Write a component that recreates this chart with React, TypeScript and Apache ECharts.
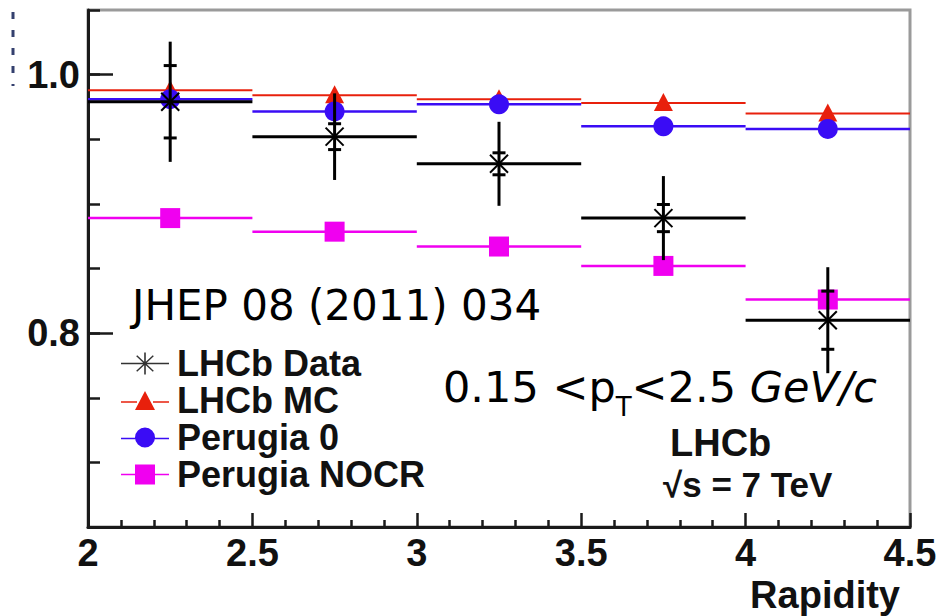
import React, { useEffect, useRef } from "react";
import * as echarts from "echarts";

// ---- data ----
const binEdges = [2, 2.5, 3, 3.5, 4, 4.5];
const dataValues = [0.979, 0.952, 0.931, 0.889, 0.81];
const dataTotalErr = [0.0465, 0.0335, 0.0325, 0.0325, 0.041];
const dataStatErr = [0.028, 0.01, 0.0085, 0.0105, 0.0225];
const mcValues = [0.988, 0.984, 0.981, 0.978, 0.97];
const perugia0Values = [0.981, 0.9715, 0.977, 0.96, 0.958];
const nocrValues = [0.889, 0.8785, 0.867, 0.852, 0.826];
const seriesNames = ["LHCb Data", "LHCb MC", "Perugia 0", "Perugia NOCR"];
const xTickLabels = ["2", "2.5", "3", "3.5", "4", "4.5"];
const yLabelValues = [0.8, 1.0];

const COLORS = {
  data: "#000000",
  mc: "#e8200c",
  p0: "#3a0cf5",
  nocr: "#f000f0",
};

const HELV = "'Liberation Sans', Arial, Helvetica, sans-serif";
const COMIC = "'DejaVu Sans', sans-serif";

const binRows = (vals: number[], extra?: number[][]) =>
  vals.map((v, i) => {
    const row = [binEdges[i], binEdges[i + 1], v];
    if (extra) extra.forEach((e) => row.push(e[i]));
    return row;
  });

type Kind = "data" | "mc" | "p0" | "nocr";

function makeRender(kind: Kind) {
  return (params: any, api: any) => {
    const x0 = api.value(0);
    const x1 = api.value(1);
    const y = api.value(2);
    const xc = (x0 + x1) / 2;
    const pL = api.coord([x0, y]);
    const pR = api.coord([x1, y]);
    const c = api.coord([xc, y]);
    const color = COLORS[kind];
    const children: any[] = [];
    const lw = kind === "data" ? 3 : kind === "mc" ? 2 : 2.5;
    children.push({
      type: "line",
      shape: { x1: pL[0], y1: pL[1], x2: pR[0], y2: pR[1] },
      style: { stroke: color, lineWidth: lw },
    });
    if (kind === "data") {
      const tot = api.value(3);
      const stat = api.value(4);
      const tTop = api.coord([xc, y + tot]);
      const tBot = api.coord([xc, y - tot]);
      const sTop = api.coord([xc, y + stat]);
      const sBot = api.coord([xc, y - stat]);
      const s = 9;
      children.push(
        { type: "line", shape: { x1: c[0] - s, y1: c[1] - s, x2: c[0] + s, y2: c[1] + s }, style: { stroke: color, lineWidth: 2 } },
        { type: "line", shape: { x1: c[0] - s, y1: c[1] + s, x2: c[0] + s, y2: c[1] - s }, style: { stroke: color, lineWidth: 2 } }
      );
      children.push({
        type: "line",
        shape: { x1: tTop[0], y1: tTop[1], x2: tBot[0], y2: tBot[1] },
        style: { stroke: color, lineWidth: 3 },
      });
      [sTop, sBot].forEach((p) =>
        children.push({
          type: "line",
          shape: { x1: p[0] - 6.5, y1: p[1], x2: p[0] + 6.5, y2: p[1] },
          style: { stroke: color, lineWidth: 3 },
        })
      );
    } else if (kind === "mc") {
      children.push({
        type: "polygon",
        shape: {
          points: [
            [c[0], c[1] - 10],
            [c[0] + 9.5, c[1] + 8],
            [c[0] - 9.5, c[1] + 8],
          ],
        },
        style: { fill: color },
      });
    } else if (kind === "p0") {
      children.push({ type: "circle", shape: { cx: c[0], cy: c[1], r: 10 }, style: { fill: color } });
    } else {
      children.push({ type: "rect", shape: { x: c[0] - 10, y: c[1] - 10, width: 20, height: 20 }, style: { fill: color } });
    }
    return { type: "group", children };
  };
}

// legend icons (48 x 22 box)
const ICON_DATA =
  "path://M0 10.2H48V11.8H0Z M23.2 0H24.8V22H23.2Z M15.2 3.8L16.2 2.8L32.8 18.2L31.8 19.2Z M31.8 2.8L32.8 3.8L16.2 19.2L15.2 18.2Z";
const ICON_MC = "path://M0 10.2H16V11.8H0Z M32 10.2H48V11.8H32Z M24 0L34 19L14 19Z";
const ICON_P0 =
  "path://M0 10.2H15V11.8H0Z M33 10.2H48V11.8H33Z M14 10A10 10 0 1 1 34 10A10 10 0 1 1 14 10Z";
const ICON_NOCR = "path://M0 10.2H15V11.8H0Z M33 10.2H48V11.8H33Z M14 1H34V21H14Z";

export default function App() {
  const ref = useRef<HTMLDivElement>(null);
  useEffect(() => {
    if (!ref.current) return;
    const chart = echarts.init(ref.current, null, { renderer: "svg" });
    const tickStyle = { color: "#1a1a1a", width: 2.5 };
    const option: any = {
      animation: false,
      backgroundColor: "#ffffff",
      grid: {
        left: 88,
        right: 39,
        top: 10,
        bottom: 89,
        show: true,
        borderColor: "#9a9a9a",
        borderWidth: 3,
        containLabel: false,
        outerBoundsMode: "none",
      },
      xAxis: {
        type: "value",
        min: 2,
        max: 4.5,
        interval: 0.5,
        axisLine: { show: true, lineStyle: { color: "#1a1a1a", width: 3 } },
        axisTick: { show: true, inside: true, length: 14, lineStyle: tickStyle },
        minorTick: { show: true, splitNumber: 5, length: 7, lineStyle: tickStyle },
        splitLine: { show: false },
        axisLabel: {
          margin: 7,
          fontSize: 38,
          fontWeight: "bold",
          fontFamily: HELV,
          color: "#111",
          formatter: (v: number) => {
            const i = Math.round((v - 2) / 0.5);
            return xTickLabels[i] ?? "";
          },
        },
      },
      yAxis: [
        {
          type: "value",
          min: 0.65,
          max: 1.05,
          interval: 0.05,
          axisLine: { show: true, lineStyle: { color: "#1a1a1a", width: 3 } },
          axisTick: { show: true, inside: true, length: 12, lineStyle: tickStyle },
          axisLabel: { show: false },
          splitLine: { show: false },
        },
        {
          type: "value",
          min: 0.65,
          max: 1.05,
          position: "left",
          offset: 0,
          axisLine: { show: false },
          axisTick: { show: true, inside: true, length: 25, lineStyle: tickStyle, customValues: yLabelValues },
          axisLabel: {
            show: true,
            customValues: yLabelValues,
            margin: 8,
            fontSize: 38,
            fontWeight: "bold",
            fontFamily: HELV,
            color: "#111",
            formatter: (v: number) => v.toFixed(1),
          },
          splitLine: { show: false },
        },
      ],
      legend: {
        orient: "vertical",
        left: 116,
        top: 340,
        itemWidth: 48,
        itemHeight: 22,
        itemGap: 0,
        selectedMode: false,
        textStyle: {
          fontSize: 36,
          fontWeight: "bold",
          fontFamily: HELV,
          color: "#111",
          lineHeight: 37,
          padding: [0, 0, 0, 3],
        },
        data: [
          { name: seriesNames[0], icon: ICON_DATA, itemStyle: { color: "#333" } },
          { name: seriesNames[1], icon: ICON_MC },
          { name: seriesNames[2], icon: ICON_P0 },
          { name: seriesNames[3], icon: ICON_NOCR },
        ],
      },
      series: [
        {
          name: seriesNames[3],
          type: "custom",
          renderItem: makeRender("nocr"),
          itemStyle: { color: COLORS.nocr },
          encode: { x: [0, 1], y: 2 },
          data: binRows(nocrValues),
        },
        {
          name: seriesNames[1],
          type: "custom",
          renderItem: makeRender("mc"),
          itemStyle: { color: COLORS.mc },
          encode: { x: [0, 1], y: 2 },
          data: binRows(mcValues),
        },
        {
          name: seriesNames[2],
          type: "custom",
          renderItem: makeRender("p0"),
          itemStyle: { color: COLORS.p0 },
          encode: { x: [0, 1], y: 2 },
          data: binRows(perugia0Values),
        },
        {
          name: seriesNames[0],
          type: "custom",
          renderItem: makeRender("data"),
          itemStyle: { color: COLORS.data },
          encode: { x: [0, 1], y: 2 },
          data: binRows(dataValues, [dataTotalErr, dataStatErr]),
        },
      ],
      graphic: [
        {
          type: "line",
          shape: { x1: 13, y1: 12, x2: 13, y2: 86 },
          style: { stroke: "#34406e", lineWidth: 3, lineDash: [7, 11] },
        },
        {
          type: "text",
          x: 132,
          y: 305,
          style: {
            text: "JHEP 08 (2011) 034",
            fontSize: 42,
            fontFamily: COMIC,
            fill: "#000",
            align: "left",
            verticalAlign: "middle",
          },
        },
        {
          type: "text",
          x: 443,
          y: 387,
          style: {
            text: "{a|0.15 <p}{s|T}{a|<2.5 }{i|GeV/c}",
            fill: "#000",
            align: "left",
            verticalAlign: "middle",
            rich: {
              a: { fontSize: 43, fontFamily: COMIC, lineHeight: 66, verticalAlign: "middle", fill: "#000" },
              s: { fontSize: 26, fontFamily: COMIC, lineHeight: 26, verticalAlign: "bottom", fill: "#000" },
              i: { fontSize: 43, fontFamily: COMIC, fontStyle: "italic", lineHeight: 66, verticalAlign: "middle", fill: "#000" },
            },
          },
        },
        {
          type: "text",
          x: 670,
          y: 443,
          style: {
            text: "LHCb",
            fontSize: 38,
            fontWeight: "bold",
            fontFamily: HELV,
            fill: "#111",
            align: "left",
            verticalAlign: "middle",
          },
        },
        {
          type: "text",
          x: 663,
          y: 484,
          style: {
            text: "√s = 7 TeV",
            fontSize: 35,
            fontWeight: "bold",
            fontFamily: HELV,
            fill: "#111",
            align: "left",
            verticalAlign: "middle",
          },
        },
        {
          type: "text",
          x: 900,
          y: 595,
          style: {
            text: "Rapidity",
            fontSize: 38,
            fontWeight: "bold",
            fontFamily: HELV,
            fill: "#111",
            align: "right",
            verticalAlign: "middle",
          },
        },
      ],
    };
    chart.setOption(option);
    return () => chart.dispose();
  }, []);
  return (
    <div
      ref={ref}
      style={{ position: "fixed", left: 0, top: 0, width: 949, height: 616, background: "#fff" }}
    />
  );
}
